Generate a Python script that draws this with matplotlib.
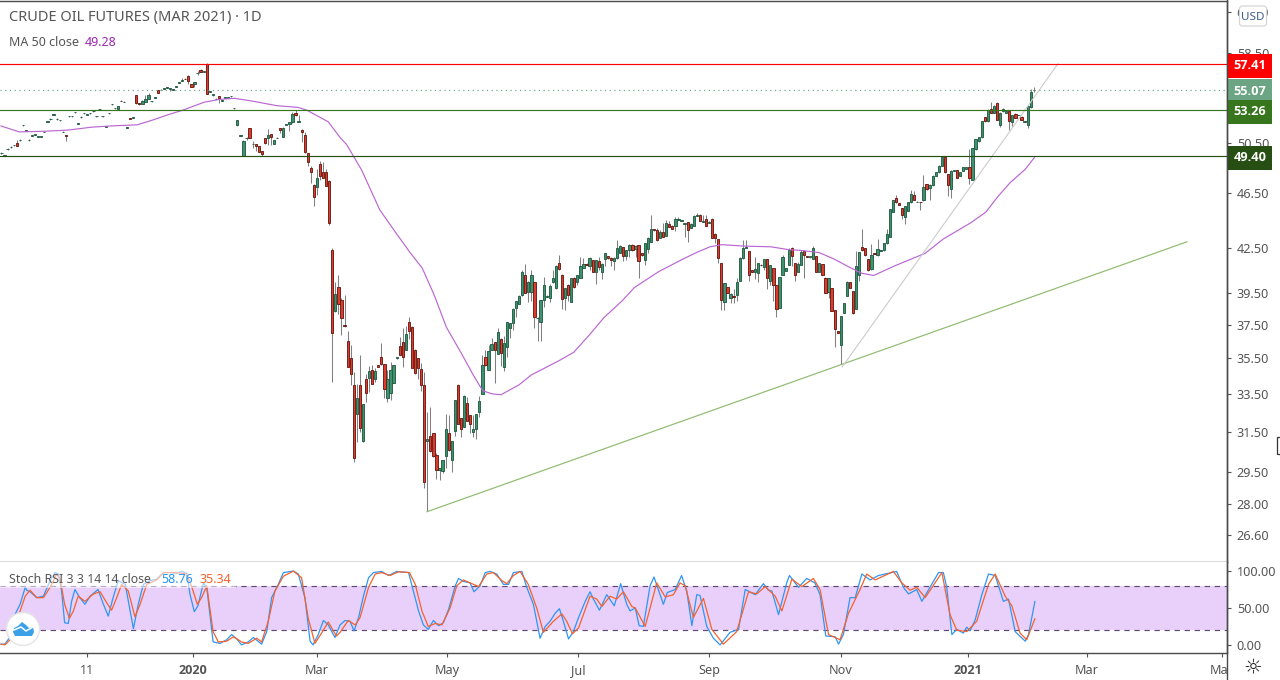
import numpy as np
import matplotlib
matplotlib.use("Agg")
import matplotlib.pyplot as plt
from matplotlib.patches import Circle, FancyBboxPatch, Polygon, Rectangle
from matplotlib.transforms import Bbox, blended_transform_factory

plt.rcParams['font.family'] = ['Noto Sans', 'DejaVu Sans']

opens = [
49.62,49.45,49.96,50.12,50.27,50.50,50.70,51.95,51.47,50.70,
51.05,51.13,50.97,50.97,51.37,52.27,52.47,52.87,52.47,52.37,
51.37,51.15,52.72,52.72,53.07,52.05,52.64,52.97,52.87,52.97,
53.15,52.72,53.32,52.72,51.80,52.97,53.77,53.42,53.40,54.10,
53.95,51.72,52.60,52.57,54.57,53.85,53.82,53.95,54.25,54.03,
54.37,55.05,55.02,55.17,55.22,55.12,55.07,55.32,55.67,55.87,
56.08,56.35,55.60,55.60,56.57,56.90,56.73,57.41,54.87,54.55,
54.22,54.50,54.07,54.37,54.37,54.47,53.42,51.95,51.07,49.45,
50.87,51.70,50.37,50.40,50.20,49.80,50.90,50.90,51.20,50.40,
50.87,51.70,51.00,51.97,52.05,52.20,53.00,52.27,51.60,51.10,
49.65,48.45,47.16,47.00,48.78,48.17,48.17,47.47,
42.41,38.33,39.90,39.05,37.48,36.50,35.50,34.00,32.40,34.00,
31.00,34.30,34.40,34.85,34.35,35.10,35.60,35.15,33.30,33.55,
34.10,35.52,36.25,36.45,36.00,37.70,37.37,36.00,35.50,34.90,
34.00,31.00,31.25,31.40,30.30,29.60,29.53,30.25,31.40,30.05,
31.55,34.00,32.20,31.75,33.00,32.35,31.45,31.65,32.50,33.50,
35.60,34.85,36.00,36.45,35.75,36.65,35.00,36.15,37.30,37.60,
38.55,38.80,39.35,40.65,39.55,39.55,40.20,37.90,37.65,39.05,
39.27,39.20,40.20,39.80,41.50,40.70,39.20,40.05,38.95,40.50,
40.25,40.50,41.15,41.45,41.30,41.70,40.90,41.65,40.90,41.75,
41.95,41.85,41.60,41.80,42.20,42.60,41.95,42.40,42.75,42.45,
42.70,42.15,41.70,42.45,42.95,43.85,43.80,43.25,43.65,43.35,
44.25,44.10,44.05,44.52,44.44,44.22,44.35,43.95,44.10,44.82,
44.90,44.35,44.60,44.32,44.60,43.50,43.15,41.50,38.95,39.90,
39.20,39.33,39.40,40.30,41.80,42.55,42.30,41.00,40.85,40.80,
41.38,41.20,41.75,40.30,41.15,40.00,38.55,40.70,40.95,41.35,
42.55,41.50,40.90,41.35,42.30,41.95,41.88,41.75,41.95,40.90,
41.40,40.50,39.55,39.80,38.40,37.13,36.30,38.25,39.30,40.20,
39.60,38.50,40.70,42.60,42.50,41.75,41.05,42.18,42.00,42.32,
42.35,42.85,43.30,45.08,46.10,45.75,45.40,44.70,45.20,45.80,
46.40,45.82,45.85,45.95,47.20,46.90,47.10,47.85,48.10,48.65,
49.30,48.00,46.85,48.20,48.30,47.85,48.25,48.40,48.50,47.50,
49.95,50.60,50.95,52.65,52.30,53.40,53.00,53.85,52.00,53.15,
53.00,53.15,52.20,52.95,52.82,52.70,52.27,52.00,53.50,55.03]

highs = [
49.70,49.52,50.03,50.19,50.34,50.70,50.77,52.02,51.54,50.77,
51.12,51.20,51.04,51.04,51.44,52.34,52.54,52.94,52.54,52.44,
51.44,51.16,52.79,52.79,53.14,52.12,52.71,53.04,52.94,53.04,
53.22,52.79,53.39,52.79,51.87,53.04,53.84,53.49,53.62,54.12,
54.02,51.79,52.62,52.64,54.59,53.87,54.12,54.60,54.80,54.10,
54.44,55.07,55.09,55.24,55.29,55.19,55.14,55.39,55.74,56.10,
56.10,56.37,55.62,55.77,56.80,56.92,56.80,57.50,54.94,54.72,
54.29,54.52,54.14,54.44,54.44,54.54,53.49,52.42,51.14,50.70,
50.94,51.72,50.60,50.42,50.22,49.82,50.92,51.65,51.22,50.72,
50.94,51.72,51.85,52.04,52.27,53.10,53.25,52.85,51.62,51.35,
49.67,48.65,47.20,48.35,49.00,48.96,48.35,47.50,
42.55,40.25,40.70,39.20,39.37,37.10,36.30,34.70,34.05,35.70,
32.97,34.60,35.05,35.10,34.95,35.12,36.40,35.17,34.85,35.30,
35.12,35.60,36.75,37.30,37.40,38.00,37.45,36.02,35.52,35.25,
34.70,32.50,32.80,31.42,30.40,29.69,30.07,32.40,32.35,31.02,
33.17,34.02,32.22,33.45,33.35,32.37,32.35,32.42,33.40,35.70,
36.00,36.30,36.70,36.47,37.30,36.70,36.85,37.67,37.62,38.52,
39.02,39.40,41.00,41.45,40.30,41.00,40.22,38.00,39.07,40.55,
39.35,40.10,41.00,41.32,42.00,40.72,39.82,40.07,40.50,40.52,
40.67,41.90,41.85,41.47,41.90,41.72,41.72,41.90,41.47,42.20,
41.97,41.87,41.87,43.10,42.70,42.62,42.37,42.80,42.77,42.70,
42.72,42.17,42.87,43.30,44.85,43.87,43.95,43.80,44.30,44.50,
44.45,44.12,44.70,44.70,44.50,44.28,44.37,44.27,44.85,45.05,
44.92,44.85,44.90,44.40,44.62,43.60,43.17,41.52,40.17,39.92,
39.47,39.75,40.45,41.87,43.10,43.10,42.32,41.02,41.90,41.52,
41.40,41.77,41.77,41.37,41.17,40.02,40.57,42.00,41.17,42.50,
42.57,41.52,41.55,42.40,42.32,41.97,41.95,42.65,41.97,41.52,
41.42,40.52,40.47,39.82,38.42,37.15,38.07,38.87,40.27,40.22,
39.62,42.30,42.27,43.85,42.52,41.77,42.80,42.20,43.15,42.38,
42.87,43.85,45.32,45.97,46.40,45.77,45.42,45.52,45.82,46.75,
46.70,45.88,45.87,47.90,47.22,47.17,47.87,48.12,48.67,49.37,
49.32,48.02,48.27,48.32,48.32,48.12,48.52,48.57,50.00,50.07,
50.82,50.97,52.32,52.67,53.32,54.00,53.67,54.00,53.07,53.42,
53.17,53.17,52.82,52.97,52.88,52.72,52.33,53.60,55.15,55.30]

lows = [
49.60,49.42,49.94,50.10,50.25,50.20,50.68,51.93,51.45,50.68,
51.03,51.11,50.95,50.95,51.35,52.25,52.45,52.85,52.45,52.35,
51.35,50.63,52.70,52.70,53.05,52.03,52.62,52.95,52.85,52.95,
53.13,52.70,53.30,52.70,51.78,52.95,53.75,53.40,53.38,54.02,
53.93,51.70,52.46,52.55,53.83,53.75,53.80,53.93,54.23,54.01,
54.35,54.75,55.00,55.15,55.20,54.95,55.05,55.30,55.65,55.85,
56.00,55.60,55.28,55.35,56.40,56.68,56.71,54.68,54.85,54.53,
54.20,53.85,54.05,54.35,54.35,54.45,53.40,51.93,51.05,49.43,
50.70,50.88,50.10,49.80,49.73,49.40,50.43,50.30,50.30,50.38,
50.85,51.30,50.98,51.95,51.45,52.18,52.78,52.25,50.55,49.68,
48.65,47.27,45.50,46.37,47.52,47.68,47.04,44.14,
34.15,38.31,38.17,36.90,37.38,34.98,34.00,29.95,30.95,31.50,
30.98,33.08,33.60,34.03,34.15,34.98,35.13,33.30,33.05,33.15,
34.08,35.48,35.68,35.00,35.98,36.65,34.93,34.63,34.35,33.65,
28.70,27.65,30.48,30.23,29.15,29.10,29.45,29.70,30.53,29.50,
31.25,31.88,31.20,31.73,32.03,31.40,31.20,31.10,32.25,33.48,
35.08,34.83,35.98,34.10,35.73,35.06,34.80,35.55,36.70,37.20,
38.00,38.78,39.33,39.48,38.90,39.00,37.30,36.50,36.50,38.60,
39.25,38.90,40.18,39.78,41.03,38.50,38.45,39.00,38.90,39.80,
40.00,40.48,41.13,41.33,41.00,40.88,40.10,41.00,40.40,41.30,
41.78,41.30,41.00,41.78,42.18,41.60,41.70,41.90,42.33,41.90,
40.50,41.98,41.35,42.20,42.93,43.73,43.00,43.23,43.28,43.33,
43.98,43.83,43.70,44.50,44.42,43.30,42.95,43.90,44.08,44.80,
44.43,44.33,44.08,44.30,43.23,42.90,41.50,38.45,38.45,39.48,
38.85,38.85,39.00,40.28,41.78,42.53,40.30,40.88,40.40,40.25,
41.30,41.00,39.75,40.00,39.00,38.00,38.53,40.68,40.93,41.33,
41.30,40.30,40.88,41.33,40.50,41.88,41.86,41.73,40.88,40.88,
40.68,39.48,39.20,38.33,36.15,36.98,35.20,38.23,39.28,39.83,
38.18,38.48,40.30,42.33,41.98,40.98,41.03,42.10,41.98,42.30,
42.33,42.83,43.28,45.06,45.78,45.58,44.60,44.25,45.18,45.78,
45.98,45.80,45.25,45.93,46.78,45.95,47.08,47.83,48.08,48.63,
48.08,46.30,46.15,48.18,47.68,47.83,48.23,48.38,47.20,47.48,
49.93,50.58,50.93,52.28,52.28,52.98,52.98,52.43,51.80,53.13,
52.98,51.55,51.90,52.58,52.80,52.38,52.25,51.70,53.48,54.85]

closes = [
49.68,49.50,50.02,50.18,50.33,50.20,50.76,52.01,51.53,50.76,
51.11,51.19,51.03,51.03,51.43,52.33,52.53,52.93,52.53,52.43,
51.43,51.05,52.78,52.78,53.13,52.11,52.70,53.03,52.93,53.03,
53.21,52.78,53.38,52.78,51.86,53.03,53.83,53.48,53.60,54.04,
54.01,51.78,52.48,52.63,53.85,53.77,54.10,54.20,54.60,54.09,
54.43,54.77,55.08,55.23,55.28,55.18,55.13,55.38,55.73,55.93,
56.02,55.85,55.30,55.75,56.63,56.70,56.79,54.70,54.93,54.70,
54.28,54.35,54.13,54.43,54.43,54.53,53.48,52.40,51.13,50.60,
50.93,50.90,50.43,50.25,49.75,49.60,50.45,51.10,51.00,50.70,
50.93,51.55,51.70,52.03,52.25,52.90,52.80,52.33,51.40,49.70,
48.90,48.14,46.20,47.70,47.84,47.70,47.06,44.30,
37.00,39.42,38.77,37.95,37.40,35.00,34.60,30.15,33.30,31.67,
32.95,33.53,34.80,34.05,34.80,35.00,35.15,33.75,34.30,34.85,
35.10,35.58,35.70,35.55,36.95,37.13,34.95,34.65,34.95,34.00,
29.00,31.10,30.50,30.25,29.60,29.67,30.05,31.65,30.55,31.00,
33.15,31.90,31.65,33.38,32.05,31.90,31.65,32.40,33.10,35.10,
35.10,35.95,36.35,36.00,37.05,35.83,36.40,37.65,37.60,38.50,
39.00,39.30,40.85,39.50,40.25,40.65,38.00,37.95,39.05,40.00,
39.33,39.95,40.45,41.30,41.05,39.10,39.80,39.40,40.45,39.90,
40.65,41.30,41.40,41.35,41.80,40.90,41.70,41.20,41.45,42.15,
41.80,41.70,41.85,42.55,42.65,41.95,42.35,42.75,42.35,42.65,
41.65,42.00,42.85,43.25,43.85,43.75,43.05,43.65,43.30,44.30,
44.00,43.85,44.60,44.58,44.50,44.27,43.80,44.25,44.80,44.88,
44.45,44.45,44.10,44.38,43.25,43.20,41.85,39.05,40.15,39.50,
39.45,39.27,40.25,41.85,42.55,42.62,40.70,40.90,41.05,41.50,
41.32,41.75,40.45,41.35,40.05,38.50,40.55,41.90,41.15,42.40,
41.95,40.70,41.45,42.25,42.00,41.90,41.93,42.50,40.90,41.50,
40.70,39.50,40.45,38.35,37.25,37.00,38.05,38.85,40.25,39.85,
38.25,41.30,42.25,42.35,42.00,41.00,42.00,42.12,42.45,42.36,
42.85,43.50,45.30,45.95,45.80,45.60,44.90,45.50,45.80,46.45,
46.00,45.86,45.80,47.00,46.80,47.15,47.85,48.10,48.65,49.35,
48.10,47.10,48.25,48.30,47.70,48.10,48.50,48.55,47.65,50.05,
50.80,50.95,52.30,52.30,53.30,53.00,53.65,52.45,53.05,53.40,
53.15,52.30,52.80,52.60,52.86,52.40,52.32,53.58,54.85,55.07]

ma_pos = [0,6,14,22,30,36,45,50,55,60,67,72,77,83,91,98,101,108,112,114,119,125,130,135,139,143,147,152,156,159,162,165,171,175,184,189,194,199,205,209,217,225,230,234,238,245,254,260,264,270,275,280,284,288,295,305,311,320,325,329,333,338,341]
ma_val = [51.9,51.4,51.45,51.55,51.8,51.9,52.0,52.4,52.85,53.26,53.95,54.2,54.3,54.05,53.65,53.5,53.25,52.25,50.9,50.37,48.3,45.25,43.68,42.2,41.15,39.35,37.35,35.77,34.5,33.67,33.5,33.45,34.0,34.55,35.35,35.85,36.85,37.95,39.0,39.85,40.9,41.75,42.25,42.6,42.75,42.65,42.6,42.4,42.35,42.2,41.75,41.2,40.8,40.65,41.3,42.15,43.15,44.3,45.08,46.25,47.3,48.35,49.28]

k_pos = [0,1.3,3,4.6,6.3,8,8.5,9.6,11.8,14,16.2,17.8,19,20,21,22.2,23.3,24.4,26,27.7,29.4,32,33.8,35.4,37,38.7,41,42.6,43.7,45.3,47,49.2,51.4,53.6,55.8,58,59.6,61.3,62.4,63.8,65,66.8,67.9,70,72.3,74.5,76.1,77.8,79.4,81.6,83.3,86,87.7,89.3,91.5,93.2,96.5,98.1,100.3,102,103,104.7,106.4,108,110.2,
111.9,113.5,115.2,116.5,118,119.6,121.3,122.9,125.6,127.9,130.6,134.5,136.1,137.8,139.4,141,142.7,144.4,146,147.7,149.9,151,152.6,154.8,156.1,158.1,159.8,161.4,163.6,165.8,167.5,169.1,171.9,173.5,175.7,177.9,179.6,181.2,182.9,184.3,185.6,187.3,188.9,190.6,192.8,194.4,195.5,197.5,199.9,202.4,204.5,206.5,207.6,209.3,210.6,212,214.2,215.5,218.6,219.9,222.5,
224.6,226.3,228,229.6,230.7,232.9,235.1,237.3,240.6,243.4,245.6,248.9,251.6,253.3,254.4,256.6,259.3,260.2,263.2,265.9,268.6,270.3,272.2,275.3,276.4,278,280.2,281.9,284.1,286.8,289.6,295.6,297.8,299.5,302.2,303.9,306.6,309.4,311,312.1,313.8,315.4,317.6,318.7,319.8,321.5,323.7,325.9,328.1,330.8,332.5,334.7,338,339.1,341.2]
k_val = [1,1,11,41,55,78,74,72,64,66,87,98,96,73,30,29,59,75,64,55,66,75,55,39,64,87,82,46,22,55,82,87,89,98,98,97,99.5,97,68,45,53,84,78,4,2,7,14,8,0,4,10,1,18,64,82,98,100,96,64,5,0,14,33,27,10,
27,33,32,19,37,66,91,98,99.5,94,99.5,98,73,46,27,21,33,26,30,48,80,90,86,84,72,80,98,99.5,96,82,82,98,99.5,78,55,9,25,32,43,49,32,8,18,37,59,72,62,47,68,53,83,55,46,50,26,25,80,92,55,71,75,
94,73,26,68,67,25,9,0,17,21,75,68,83,74,73,41,84,94,78,90,84,68,12,11,1,14,64,64,96,88,94,99.5,78,69,75,59,78,98,98,78,14,21,16,24,19,34,68,96,94,59,62,18,5,14,58.76]

d_pos = [0,1.3,3,4.6,6.3,8,9.6,11.8,14,16.2,18.4,19.5,21,22.6,23.9,25.5,27.7,30.5,32.7,34.9,36.5,38.2,39.8,42,44.2,45.9,48.1,51.4,53.6,58,61.3,63,64.8,66.2,67.9,70,71.7,74.5,76.7,79.4,81.6,84.4,86,88.2,90.4,93.2,96.5,99.2,101.4,103.6,105.8,108,110.7,
111.9,114.6,116.9,118.5,121.3,123.5,125.6,128.4,131.2,134.8,136.7,138.9,141,143.3,145.5,148.2,150.4,152.6,155.4,157.6,160.3,162.5,165.3,166.9,169.1,171.3,174,176.8,179,182.3,185.1,186.7,188.6,190.6,194.4,196.6,198.3,201,203.2,205.4,208.2,209.3,212.6,216.4,219.2,221.9,
224.1,225.8,228.5,231.8,234.6,238.4,242.8,246.7,249.4,252.2,255.5,257.7,261,264.3,268.1,270.3,273.1,276.9,279.7,283.5,285.7,288.5,294.5,297.3,300,302.2,305,310.5,313.2,315.4,318.7,322,325.9,328.1,331.4,333.6,336.3,338.5,341.2]
d_val = [1,0,7,27,46,66,74,64,64,78,96,89,55,36,46,66,59,69,72,57,47,64,82,73,38,55,82,88,98,98,96,78,55,64,80,18,4,5,11,4,2,9,4,32,73,93,100,91,36,2,16,31,12,
17,33,27,37,78,96,98,94,99,98,82,46,25,29,27,50,80,88,83,79,96,98,87,83,94,99.5,82,50,17,32,42,32,15,23,66,62,52,66,62,72,52,50,25,84,65,68,
84,80,37,63,21,1,18,72,69,79,66,46,89,79,90,75,14,7,43,75,96,88,99.5,84,74,78,64,98,41,20,18,32,82,96,66,53,16,7,35.34]

price_ticks = [62.50,58.50,54.50,50.50,46.50,42.50,39.50,37.50,35.50,33.50,31.50,29.50,28.00,26.60]
stoch_ticks = [0,50,100]
time_pos = [28.4,63.4,104.3,147.2,190.4,233.7,277.2,319.1,358.4,403.0]
time_labels = ['11','2020','Mar','May','Jul','Sep','Nov','2021','Mar','Mar']
levels = [57.41,55.07,53.26,49.40]
level_colors = ['#ff0000','#6ba583','#38761d','#274e13']
support_pos, support_val = [140.6,391.4], [27.63,42.95]
rise_pos, rise_val = [277.6,348.8], [35.0,57.45]

W, H = 1280, 680
XL, XR = -0.33, 404.6
GRAY = '#555555'

fig = plt.figure(figsize=(W/100, H/100), dpi=100, facecolor='white')
def rect(l, t, r, b):
    return [l/W, 1-b/H, (r-l)/W, (b-t)/H]

ax = fig.add_axes(rect(0, 1, 1227, 562))
ar = fig.add_axes(rect(0, 562, 1227, 653), sharex=ax)

o, h, l, c = map(np.array, (opens, highs, lows, closes))
n = len(o)
assert len(h) == n and len(l) == n and len(c) == n, (n, len(h), len(l), len(c))
x = 0.16 + np.arange(n) * (3.063/3.03)
up = c >= o
ax.vlines(x, l, h, color='#808080', lw=0.75, zorder=2)
for mask, face, edge in ((up, '#3f9270', '#235c43'), (~up, '#dc3c2c', '#6a1a14')):
    ax.bar(x[mask], np.abs(c-o)[mask], bottom=np.minimum(o, c)[mask], width=0.74,
           color=face, edgecolor=edge, linewidth=0.65, zorder=3)

ax.plot(ma_pos, ma_val, color='#bb66d2', lw=0.85, zorder=4)
ax.plot(support_pos, support_val, color='#8fbb6f', lw=0.85, zorder=4)
ax.plot(rise_pos, rise_val, color='#cccccc', lw=0.8, zorder=4)

ax.axhline(levels[0], color=level_colors[0], lw=0.85, zorder=5)
ax.axhline(levels[1], color=level_colors[1], lw=0.85, ls=(0, (1, 3)), zorder=5)
ax.axhline(levels[2], color=level_colors[2], lw=0.85, zorder=5)
ax.axhline(levels[3], color=level_colors[3], lw=0.85, zorder=5)

ax.set_yscale('log')
ax.set_ylim(25.45, 63.66)
ax.set_xlim(XL, XR)
ax.yaxis.tick_right()
ax.set_yticks(price_ticks)
ax.set_yticklabels([f'{v:.2f}' for v in price_ticks])
ax.minorticks_off()
ax.tick_params(axis='y', which='major', length=3, width=0.8, color=GRAY, labelcolor=GRAY, labelsize=9.1, pad=4)
ax.tick_params(axis='x', which='both', length=0, labelbottom=False)
ax.spines['left'].set_visible(False)
for s in ('right', 'bottom', 'top'):
    ax.spines[s].set_color('#4a4a4a')
    ax.spines[s].set_linewidth(1.0)

tr = blended_transform_factory(ax.transAxes, ax.transData)
for v, col in zip(levels, level_colors):
    ax.text(1250/1227, v, f'{v:.2f}', transform=tr, ha='center', va='center_baseline', color='white',
            fontsize=9.2, fontweight='bold', family='Open Sans', clip_on=False, zorder=20,
            bbox=dict(boxstyle='square,pad=0.42', fc=col, ec='none'))

ar.axhspan(20, 80, color='#e8d0fb', lw=0, zorder=1)
for v in (20, 80):
    ar.axhline(v, color='#5f4b70', lw=0.85, ls=(0, (4.5, 4)), zorder=2)
ar.plot(k_pos, k_val, color='#2f96f3', lw=0.9, zorder=3)
ar.plot(d_pos, d_val, color='#f4622d', lw=0.9, zorder=4)
ar.set_ylim(-11, 112.3)
ar.yaxis.tick_right()
ar.set_yticks(stoch_ticks)
ar.set_yticklabels([f'{v:.2f}' for v in stoch_ticks])
ar.tick_params(axis='y', length=3, width=0.8, color=GRAY, labelcolor=GRAY, labelsize=9.1, pad=4)
ar.set_xticks(time_pos)
ar.set_xticklabels(time_labels)
ar.tick_params(axis='x', length=3, width=0.8, color=GRAY, labelcolor=GRAY, labelsize=9.1, pad=5)
for t in ar.get_xticklabels():
    if t.get_text() in ('2020', '2021'):
        t.set_fontweight('bold')
        t.set_family('Open Sans')
last = ar.get_xticklabels()[-1]
last.set_clip_on(True)
last.set_clip_box(Bbox([[0, 0], [1227, 680]]))
ar.set_xlim(XL, XR)
ar.spines['left'].set_visible(False)
ar.spines['top'].set_visible(False)
for s in ('right', 'bottom'):
    ar.spines[s].set_color('#4a4a4a')
    ar.spines[s].set_linewidth(1.0)

ov = fig.add_axes([0, 0, 1, 1], facecolor='none')
ov.set_xlim(0, W)
ov.set_ylim(H, 0)
ov.axis('off')
ov.plot([1227, 1227], [0, 680], color='#4a4a4a', lw=1.0)

ov.text(9, 18, 'CRUDE OIL FUTURES (MAR 2021) · 1D', fontsize=10.5, color=GRAY, va='center')
ov.text(9, 42, 'MA 50 close', fontsize=9.0, color=GRAY, va='center')
ov.text(85, 42, '49.28', fontsize=9.0, color='#9c27b0', va='center')

ov.add_patch(Rectangle((0, 563), 236, 25, fc='white', ec='none', alpha=0.55))
ov.text(9, 579.5, 'Stoch RSI 3 3 14 14 close', fontsize=8.9, color=GRAY, va='center')
ov.text(161, 579.5, '58.76', fontsize=9.0, color='#2196f3', va='center')
ov.text(199, 579.5, '35.34', fontsize=9.0, color='#f4622d', va='center')

ov.add_patch(FancyBboxPatch((1239.5, 6), 27, 20, boxstyle='round,pad=0,rounding_size=3', fc='white', ec='#d6d6d6', lw=0.9, zorder=30))
ov.text(1253, 17, 'USD', fontsize=8.4, color='#3b5f8a', ha='center', va='center', zorder=31)

ov.add_patch(Circle((23, 629), 16.5, fc='white', ec='#e4e4e4', lw=1, zorder=30))
ov.add_patch(Polygon([(13, 632), (14, 628), (18, 626), (22, 622), (26, 625), (29, 628), (33, 627), (34, 632), (32, 636), (15, 636)],
                     closed=True, fc='#3aa0e8', ec='none', zorder=31))
ov.plot([14, 21, 26, 33], [630, 627, 631, 627], color='white', lw=1.1, zorder=32)

ov.text(1253, 667, '☼', fontsize=15, family='DejaVu Sans', color='#222222', ha='center', va='center')
ov.add_patch(Rectangle((1277, 437), 5, 17, fc='white', ec='#333333', lw=0.9))

fig.savefig('out.png', dpi=100, facecolor='white')
